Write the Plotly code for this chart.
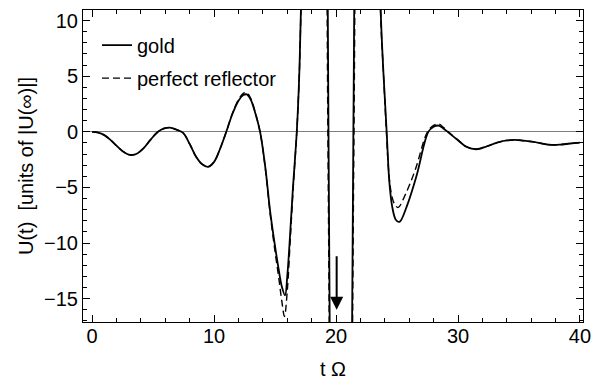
import plotly.graph_objects as go

# ---- data ----
t_gold = [0.0, 0.5, 1.0, 1.5, 2.0, 2.5, 3.0, 3.3, 3.7, 4.2, 4.8, 5.4, 5.9,
          6.37, 6.9, 7.46, 8.0, 8.5, 9.0, 9.5, 10.0, 10.5, 11.0, 11.5, 12.0,
          12.4, 12.68, 13.0, 13.4, 13.77, 14.2, 14.6, 15.0, 15.3, 15.55,
          15.82, 16.0, 16.2, 16.45, 16.78, 16.97, 17.12, 17.5, 18.3, 19.0,
          19.38, 19.8, 20.4, 21.0, 21.42, 21.9, 22.6, 23.2, 23.66, 23.9,
          24.15, 24.37, 24.6, 24.9, 25.2, 25.8, 26.6, 27.57, 28.0, 28.4,
          28.8, 29.2, 29.9, 30.7, 31.5, 32.4, 33.2, 34.0, 34.67, 35.4, 36.2,
          37.0, 37.7, 38.4, 39.2, 40.0]
u_gold = [0.0, -0.07, -0.3, -0.72, -1.25, -1.75, -2.05, -2.08, -1.95, -1.5,
          -0.7, 0.0, 0.3, 0.37, 0.2, -0.1, -1.1, -2.2, -2.9, -3.15, -2.7,
          -1.5, 0.0, 1.6, 2.8, 3.3, 3.36, 2.9, 1.6, 0.0, -3.2, -7.2, -10.3,
          -12.4, -13.9, -14.7, -13.0, -9.8, -5.3, 0.0, 4.7, 11.0, 35.0, 80.0,
          55.0, 0.0, -60.0, -90.0, -60.0, 0.0, 60.0, 80.0, 40.0, 11.0, 5.0,
          0.0, -4.5, -6.7, -7.9, -8.1, -6.7, -3.96, 0.0, 0.45, 0.56, 0.3,
          -0.05, -0.67, -1.35, -1.57, -1.3, -0.97, -0.78, -0.73, -0.8, -0.91,
          -1.08, -1.18, -1.15, -1.05, -0.98]

t_perf = [0.0, 0.5, 1.0, 1.5, 2.0, 2.5, 3.0, 3.3, 3.7, 4.2, 4.8, 5.4, 5.9,
          6.37, 6.9, 7.46, 8.0, 8.5, 9.0, 9.5, 10.0, 10.5, 11.0, 11.5, 12.0,
          12.4, 12.68, 13.0, 13.4, 13.77, 14.2, 14.6, 15.0, 15.3, 15.55,
          15.77, 16.0, 16.25, 16.5, 16.78, 16.97, 17.12, 17.5, 18.3, 19.0,
          19.33, 19.8, 20.4, 21.0, 21.47, 21.9, 22.6, 23.2, 23.64, 23.9,
          24.13, 24.35, 24.6, 24.85, 25.1, 25.7, 26.5, 27.5, 28.0, 28.4,
          28.8, 29.2, 29.9, 30.7, 31.5, 32.4, 33.2, 34.0, 34.67, 35.4, 36.2,
          37.0, 37.7, 38.4, 39.2, 40.0]
u_perf = [0.0, -0.07, -0.3, -0.72, -1.25, -1.75, -2.05, -2.08, -1.95, -1.5,
          -0.7, 0.0, 0.3, 0.37, 0.2, -0.1, -1.1, -2.2, -2.9, -3.15, -2.7,
          -1.5, 0.0, 1.65, 2.9, 3.45, 3.52, 3.0, 1.65, 0.0, -3.3, -7.4, -10.8,
          -13.1, -15.2, -16.6, -14.3, -9.6, -4.8, 0.0, 4.7, 11.0, 35.0, 80.0,
          55.0, 0.0, -60.0, -90.0, -60.0, 0.0, 60.0, 80.0, 40.0, 11.0, 5.0,
          0.0, -4.0, -5.9, -6.6, -6.8, -5.6, -3.4, 0.0, 0.58, 0.72, 0.4,
          0.0, -0.65, -1.35, -1.57, -1.3, -0.97, -0.78, -0.73, -0.8, -0.91,
          -1.08, -1.18, -1.15, -1.05, -0.98]

arrow_t = 20.05
arrow_tail_u = -11.05
arrow_head_u = -16.0

x_ticks = [0, 10, 20, 30, 40]
y_ticks = [-15, -10, -5, 0, 5, 10]

FONT = "Liberation Sans, Arial, sans-serif"
FS = 20

fig = go.Figure()
fig.add_trace(go.Scatter(
    x=t_gold, y=u_gold, mode="lines", name="gold", legendgroup="g1",
    line=dict(color="black", width=1.8, shape="spline", smoothing=1.0)))
fig.add_trace(go.Scatter(
    x=t_perf, y=u_perf, mode="lines", name="perfect reflector", legendgroup="g2",
    line=dict(color="black", width=1.4, dash="7px,4px", shape="spline", smoothing=1.0)))

fig.add_annotation(
    x=arrow_t, y=arrow_head_u, ax=arrow_t, ay=arrow_tail_u,
    xref="x", yref="y", axref="x", ayref="y", text="", showarrow=True,
    arrowhead=2, arrowsize=1.3, arrowwidth=2, arrowcolor="black", standoff=0)

axis_common = dict(
    showline=True, linecolor="black", linewidth=1, mirror="allticks",
    ticks="inside", ticklen=7, tickwidth=1, tickcolor="black",
    showgrid=False, automargin=False,
    tickfont=dict(family=FONT, size=FS, color="black"),
)

fig.update_xaxes(
    range=[-0.75, 40.25], tickvals=x_ticks, zeroline=False,
    ticklabelstandoff=-4,
    minor=dict(ticks="inside", ticklen=4, dtick=2, tick0=0, tickcolor="black", showgrid=False),
    title=dict(text="t Ω", font=dict(family=FONT, size=FS, color="black"), standoff=15),
    **axis_common)
fig.update_yaxes(
    range=[-17.1, 10.95], tickvals=y_ticks, zeroline=True, zerolinecolor="#808080",
    zerolinewidth=1.3,
    minor=dict(ticks="inside", ticklen=4, dtick=1, tick0=0, tickcolor="black", showgrid=False),
    title=dict(text="U(t)  [units of |U(∞)|]", font=dict(family=FONT, size=FS, color="black"),
               standoff=5),
    **axis_common)

fig.update_layout(
    width=592, height=383, autosize=False,
    margin=dict(l=83, r=9, t=10, b=61),
    plot_bgcolor="white", paper_bgcolor="white",
    showlegend=True,
    legend=dict(x=0.028, y=0.95, xanchor="left", yanchor="top",
                bgcolor="rgba(0,0,0,0)", tracegroupgap=4,
                font=dict(family=FONT, size=FS, color="black")),
)

fig.write_html("out.html")
